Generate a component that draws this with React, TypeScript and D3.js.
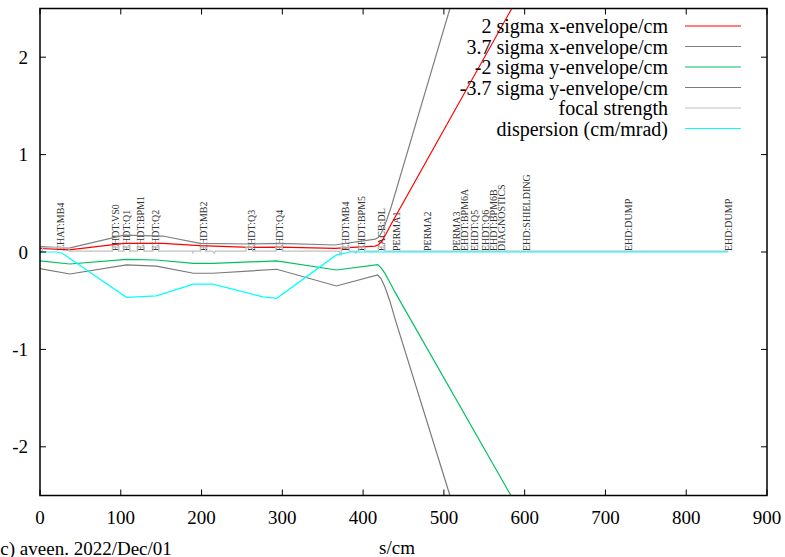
import { line, scaleLinear } from 'd3';

// beam envelope plot: s along the line (cm) vs envelope / dispersion
// each series is a list of [s, value] pairs

const xEnv2 = [
  [0, 0.038], [36, 0.022], [104, 0.089], [152, 0.089], [198, 0.065],
  [260, 0.048], [297, 0.05], [365, 0.038], [415, 0.06], [419, 0.075],
  [423, 0.11], [428, 0.18], [435, 0.29], [584, 2.5], [600, 2.74],
];

const xEnv37 = [
  [0, 0.055], [36, 0.04], [104, 0.174], [152, 0.164], [198, 0.089],
  [260, 0.082], [297, 0.089], [365, 0.072], [415, 0.133], [419, 0.15],
  [423, 0.2], [428, 0.3], [435, 0.47], [507.5, 2.5], [520, 2.85],
];

const yEnv2 = [
  [0, -0.092], [37, -0.123], [107, -0.075], [144, -0.082], [190, -0.116],
  [214, -0.116], [293, -0.092], [367, -0.185], [418, -0.13], [422, -0.16],
  [427, -0.22], [433, -0.31], [440, -0.42], [583, -2.5], [600, -2.75],
];

const yEnv37 = [
  [0, -0.17], [37, -0.226], [107, -0.133], [144, -0.145], [190, -0.218],
  [214, -0.218], [293, -0.177], [367, -0.349], [418, -0.236], [422, -0.27],
  [427, -0.36], [433, -0.5], [440, -0.7], [507.5, -2.5], [520, -2.83],
];

const focal = [
  [0, 0.01], [3, 0.01], [3, 0.045], [36, 0.045], [36, 0.01],
  [90, 0.01], [90, 0.05], [97, 0.05], [97, 0.01],
  [104, 0.01], [104, 0.05], [111, 0.05], [111, 0.01],
  [121, 0.01], [121, 0.05], [129, 0.05], [129, 0.01],
  [140, 0.01], [140, 0.05], [147, 0.05], [147, 0.01],
  [189, 0.01], [189, -0.015], [190, 0.01],
  [199, 0.01], [199, 0.05], [205, 0.05], [205, 0.01],
  [213, 0.01], [216, -0.012], [217, 0.01],
  [255, 0.01], [255, 0.05], [263, 0.05], [263, 0.01],
  [292, 0.01], [292, 0.05], [300, 0.05], [300, 0.01],
  [371, 0.01], [371, -0.03], [373, -0.03], [373, 0.05], [383, 0.05], [383, 0.01],
  [389, 0.01], [391, -0.012], [392, 0.01],
  [395, 0.01], [395, 0.05], [402, 0.05], [402, 0.01],
  [419, 0.01], [419, 0.05], [426, 0.05], [426, 0.01],
  [852, 0.01],
];

const dispersion = [
  [0, 0], [20, 0], [27, -0.01], [107, -0.465], [144, -0.45], [190, -0.33],
  [214, -0.33], [276, -0.46], [293, -0.475], [367, -0.03], [384, 0], [852, 0],
];

// beamline elements (label, s position)
const elementNames = [
  'EHAT:MB4', 'EHDT:VS0', 'EHDT:Q1', 'EHDT:BPM1', 'EHDT:Q2', 'EHDT:MB2',
  'EHDT:Q3', 'EHDT:Q4', 'EHDT:MB4', 'EHDT:BPM5', 'EACB:DL', 'PERMA1',
  'PERMA2', 'PERMA3', 'EHDT:BPM6A', 'EHDT:Q5', 'EHDT:Q6', 'EHDT:BPM6B',
  'DIAGNOSTICS', 'EHD:SHIELDING', 'EHD:DUMP', 'EHD:DUMP',
];
const elementPos = [
  25, 93, 107, 125, 143.6, 202, 262, 296, 378, 398, 423, 441.5,
  480, 515, 526, 538.5, 552, 562, 571.5, 602.5, 728, 852,
];

const legendLabels = [
  '2 sigma x-envelope/cm',
  '3.7 sigma x-envelope/cm',
  '-2 sigma y-envelope/cm',
  '-3.7 sigma y-envelope/cm',
  'focal strength',
  'dispersion (cm/mrad)',
];
const seriesColors = ['#ff0000', '#808080', '#00c060', '#7a7a7a', '#c0c0c0', '#00ffff'];
const allSeries = [xEnv2, xEnv37, yEnv2, yEnv37, focal, dispersion];

const xDomain = [0, 900];
const yDomain = [-2.5, 2.5];

const FONT = '"Liberation Serif", "Times New Roman", serif';

const App = () => {
  const width = 785;
  const height = 557;
  const margin = { left: 40, right: 767, top: 8.5, bottom: 495.5 };

  const x = scaleLinear().domain(xDomain).range([margin.left, margin.right]);
  const y = scaleLinear().domain(yDomain).range([margin.bottom, margin.top]);
  const path = line<number[]>()
    .x((d) => x(d[0]))
    .y((d) => y(d[1]));

  const tickLen = 6;

  return (
    <svg
      width={width}
      height={height}
      style={{ position: 'absolute', left: 0, top: 0, background: '#fff', fontFamily: FONT }}
    >
      <defs>
        <clipPath id="plot-clip">
          <rect
            x={margin.left}
            y={margin.top}
            width={margin.right - margin.left}
            height={margin.bottom - margin.top}
          />
        </clipPath>
      </defs>

      {/* element labels along the beamline */}
      <g fill="#333" fontSize={10}>
        {elementNames.map((name, i) => (
          <text
            key={i}
            transform={`translate(${x(elementPos[i])},${y(0) - 1}) rotate(-90)`}
            dominantBaseline="central"
          >
            {name}
          </text>
        ))}
      </g>

      {/* curves */}
      <g clipPath="url(#plot-clip)" fill="none">
        {allSeries.map((s, i) => (
          <path key={i} d={path(s) || ''} stroke={seriesColors[i]} strokeWidth={1.2} />
        ))}
      </g>

      {/* ticks, mirrored inward on all sides */}
      <g stroke="#000" strokeWidth={1}>
        {x.ticks(9).map((t) => (
          <g key={`x${t}`}>
            <line x1={x(t)} x2={x(t)} y1={margin.bottom} y2={margin.bottom - tickLen} />
            <line x1={x(t)} x2={x(t)} y1={margin.top} y2={margin.top + tickLen} />
          </g>
        ))}
        {y.ticks(5).map((t) => (
          <g key={`y${t}`}>
            <line x1={margin.left} x2={margin.left + tickLen} y1={y(t)} y2={y(t)} />
            <line x1={margin.right} x2={margin.right - tickLen} y1={y(t)} y2={y(t)} />
          </g>
        ))}
      </g>

      {/* legend */}
      <g fontSize={20}>
        {legendLabels.map((label, i) => {
          const ly = 26 + i * 20.5;
          return (
            <g key={label}>
              <text x={668} y={ly} textAnchor="end" dominantBaseline="central" fill="#000">
                {label}
              </text>
              <line x1={685} x2={741} y1={ly} y2={ly} stroke={seriesColors[i]} strokeWidth={1.2} />
            </g>
          );
        })}
      </g>

      <rect
        x={margin.left}
        y={margin.top}
        width={margin.right - margin.left}
        height={margin.bottom - margin.top}
        fill="none"
        stroke="#000"
        strokeWidth={1.5}
      />

      {/* tick labels */}
      <g fontSize={19} fill="#000">
        {x.ticks(9).map((t) => (
          <text key={`xl${t}`} x={x(t)} y={517} textAnchor="middle" dominantBaseline="central">
            {t}
          </text>
        ))}
        {y.ticks(5).map((t) => (
          <text key={`yl${t}`} x={28} y={y(t)} textAnchor="end" dominantBaseline="central">
            {t}
          </text>
        ))}
        <text x={397} y={554} textAnchor="middle">
          s/cm
        </text>
        <text x={-6} y={555}>
          (c) aveen. 2022/Dec/01
        </text>
      </g>
    </svg>
  );
};

export default App;
